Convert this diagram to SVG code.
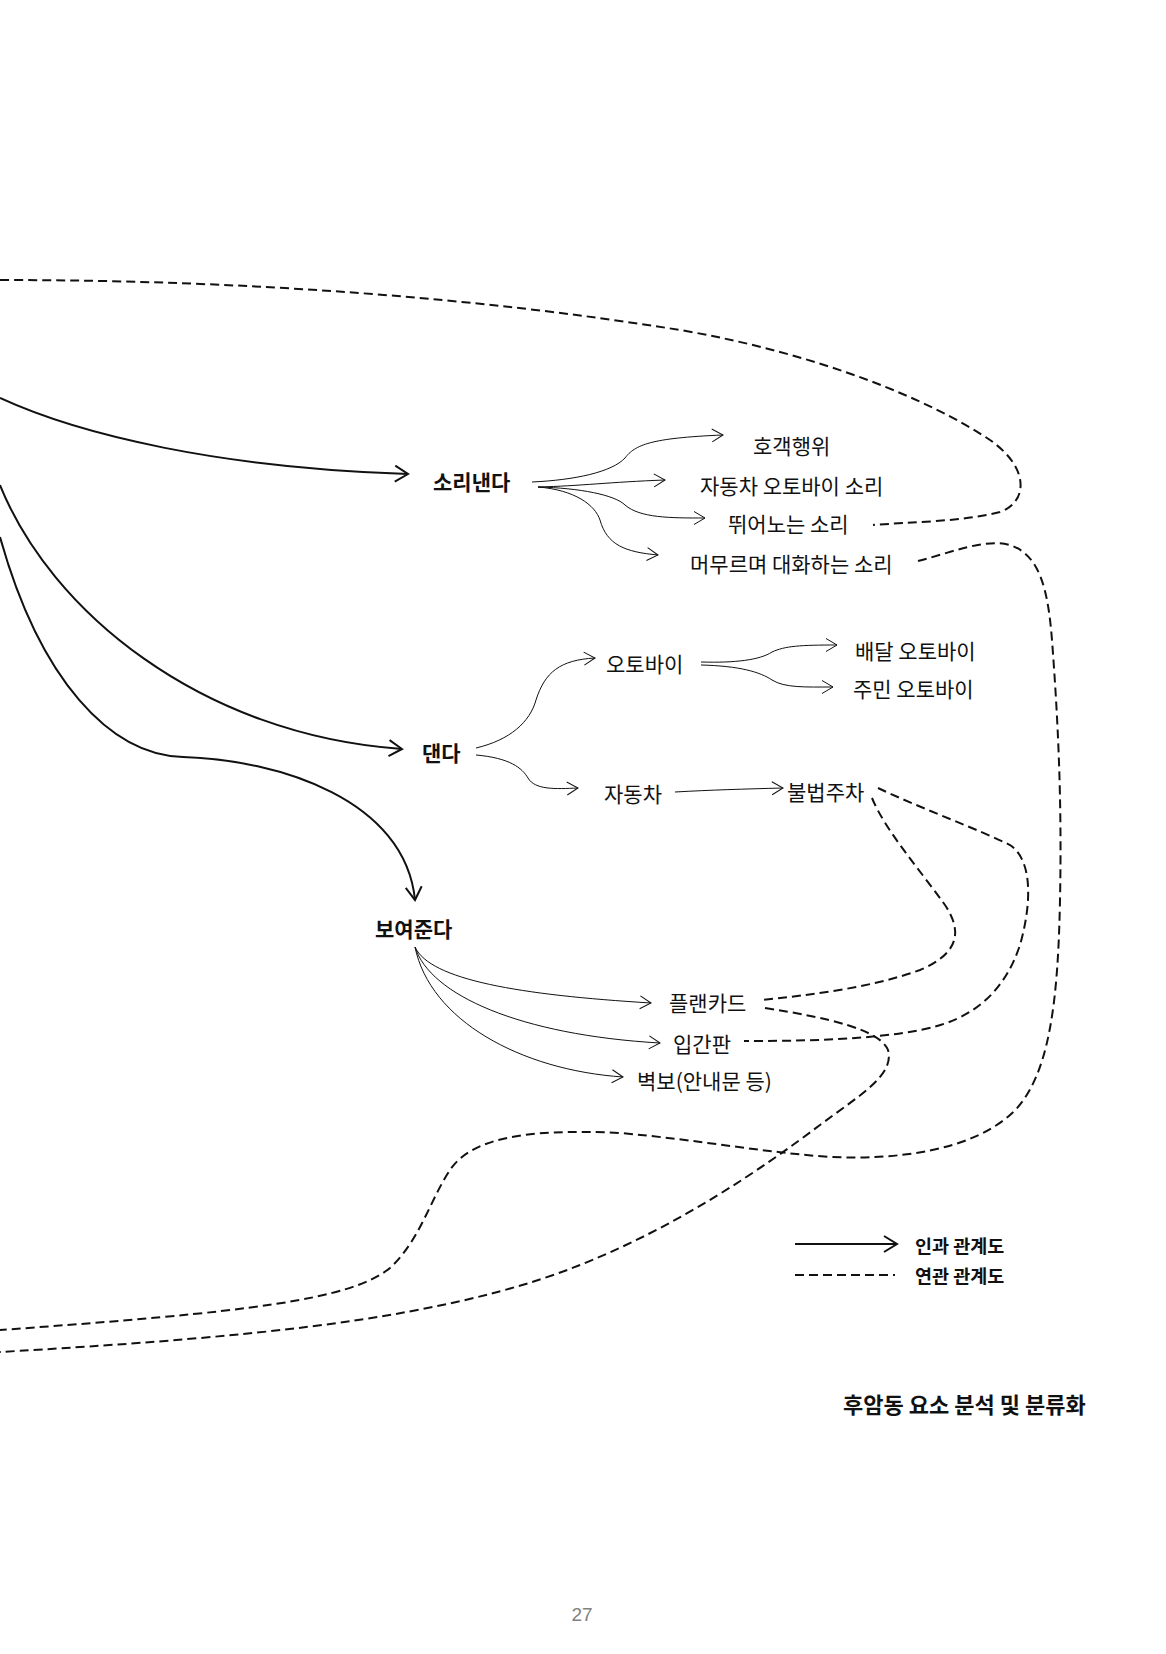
<svg xmlns="http://www.w3.org/2000/svg" width="1166" height="1654" viewBox="0 0 1166 1654">
<defs>
<style>
.lbl{font-family:"Noto Sans CJK KR","Noto Sans",sans-serif;font-size:21px;fill:#111;dominant-baseline:central}
.bold{font-weight:bold}
.leg{font-family:"Noto Sans CJK KR","Noto Sans",sans-serif;font-size:18.5px;font-weight:bold;fill:#111;dominant-baseline:central}
.thick{fill:none;stroke:#111;stroke-width:2}
.thin{fill:none;stroke:#111;stroke-width:1}
.dash{fill:none;stroke:#111;stroke-width:2;stroke-dasharray:9 5}
</style>
<marker id="ahT" markerUnits="userSpaceOnUse" markerWidth="18" markerHeight="20" refX="14" refY="9" orient="auto">
<path d="M1,1 L14,9 L1,17" fill="none" stroke="#111" stroke-width="2"/>
</marker>
<marker id="aht" markerUnits="userSpaceOnUse" markerWidth="14" markerHeight="16" refX="12" refY="7.5" orient="auto">
<path d="M1,1 L12,7.5 L1,14" fill="none" stroke="#111" stroke-width="1"/>
</marker>
</defs>
<rect width="1166" height="1654" fill="#fff"/>

<g id="connectors">
<!-- causal thick -->
<path class="thick" marker-end="url(#ahT)" d="M0,398 C80,435 220,468 408,474"/>
<path class="thick" marker-end="url(#ahT)" d="M0,485 C50,610 200,735 402,749"/>
<path class="thick" marker-end="url(#ahT)" d="M0,537 C40,680 110,755 183,757 C280,760 405,800 415,900"/>
<!-- from 소리낸다 -->
<path class="thin" marker-end="url(#aht)" d="M532,482 C575,480 612,472 625,458 C635,445 650,438 723,435"/>
<path class="thin" marker-end="url(#aht)" d="M538,487 C580,486 610,482 665,480"/>
<path class="thin" marker-end="url(#aht)" d="M538,487 C580,488 615,495 625,505 C640,518 670,518 705,518"/>
<path class="thin" marker-end="url(#aht)" d="M538,487 C575,490 595,505 600,520 C607,545 625,552 658,555"/>
<!-- from 댄다 -->
<path class="thin" marker-end="url(#aht)" d="M476,748 C510,740 530,722 536,700 C545,672 560,660 595,658"/>
<path class="thin" marker-end="url(#aht)" d="M476,755 C510,758 522,768 528,778 C535,790 555,789 578,788"/>
<path class="thin" marker-end="url(#aht)" d="M675,792 C710,790 745,789 783,788"/>
<path class="thin" marker-end="url(#aht)" d="M701,662 C735,663 760,660 772,652 C785,646 800,645 837,645"/>
<path class="thin" marker-end="url(#aht)" d="M701,665 C740,666 760,672 772,680 C785,688 805,687 833,687"/>
<!-- from 보여준다 -->
<path class="thin" marker-end="url(#aht)" d="M415,947 C430,980 520,995 651,1003"/>
<path class="thin" marker-end="url(#aht)" d="M415,947 C430,995 520,1035 660,1043"/>
<path class="thin" marker-end="url(#aht)" d="M415,947 C430,1020 520,1070 623,1077"/>
<!-- association dashed -->
<path class="dash" d="M0,280 C250,280 480,298 680,330 C820,354 930,400 990,440 C1030,468 1028,502 1000,512 C960,522 910,522 873,525"/>
<path class="dash" d="M918,561 C950,553 985,538 1010,545 C1040,555 1048,590 1052,640 C1058,720 1062,800 1060,900 C1058,1000 1050,1080 1010,1115 C970,1150 900,1160 830,1157 C760,1152 700,1140 620,1133 C520,1128 470,1140 450,1170 C430,1200 420,1240 390,1268 C350,1300 250,1312 0,1330"/>
<path class="dash" d="M765,1008 C830,1018 880,1030 888,1050 C895,1075 860,1095 820,1125 C760,1170 680,1225 580,1265 C480,1305 350,1325 200,1338 C120,1345 50,1349 0,1352"/>
<path class="dash" d="M872,798 C885,830 920,870 945,905 C965,935 955,955 920,970 C870,988 810,995 762,1000"/>
<path class="dash" d="M878,788 C920,808 980,830 1010,845 C1035,862 1030,910 1020,945 C1005,990 975,1020 920,1030 C870,1040 800,1041 744,1041"/>
<!-- legend -->
<path class="thick" marker-end="url(#ahT)" d="M795,1244 L897,1244"/>
<path fill="none" stroke="#111" stroke-width="2" stroke-dasharray="9 5" d="M795,1275 L895,1275"/>
</g>

<g id="n-sori"><text class="lbl bold" x="433" y="481">소리낸다</text></g>
<g id="n-hogaek"><text class="lbl" x="753" y="445">호객행위</text></g>
<g id="n-car-sound"><text class="lbl" x="700" y="485">자동차 오토바이 소리</text></g>
<g id="n-play"><text class="lbl" x="728" y="523">뛰어노는 소리</text></g>
<g id="n-talk"><text class="lbl" x="690" y="563">머무르며 대화하는 소리</text></g>
<g id="n-daenda"><text class="lbl bold" x="422" y="752">댄다</text></g>
<g id="n-moto"><text class="lbl" x="606" y="663">오토바이</text></g>
<g id="n-delivery"><text class="lbl" x="855" y="650">배달 오토바이</text></g>
<g id="n-resident"><text class="lbl" x="853" y="688">주민 오토바이</text></g>
<g id="n-car"><text class="lbl" x="604" y="793">자동차</text></g>
<g id="n-illegal"><text class="lbl" x="787" y="791">불법주차</text></g>
<g id="n-show"><text class="lbl bold" x="375" y="928">보여준다</text></g>
<g id="n-placard"><text class="lbl" x="669" y="1002">플랜카드</text></g>
<g id="n-sign"><text class="lbl" x="673" y="1043">입간판</text></g>
<g id="n-poster"><text class="lbl" x="637" y="1080">벽보(안내문 등)</text></g>
<g id="legend">
<text class="leg" x="915" y="1245">인과 관계도</text>
<text class="leg" x="915" y="1275">연관 관계도</text>
</g>
<g id="caption"><text x="843" y="1403" style="font-family:'Noto Sans CJK KR','Noto Sans',sans-serif;font-size:22px;font-weight:bold;fill:#111;dominant-baseline:central">후암동 요소 분석 및 분류화</text></g>
<g id="page"><text x="582" y="1621" text-anchor="middle" style="font-family:'Liberation Sans',Arial,sans-serif;font-size:19px;fill:#808080">27</text></g>
</svg>
